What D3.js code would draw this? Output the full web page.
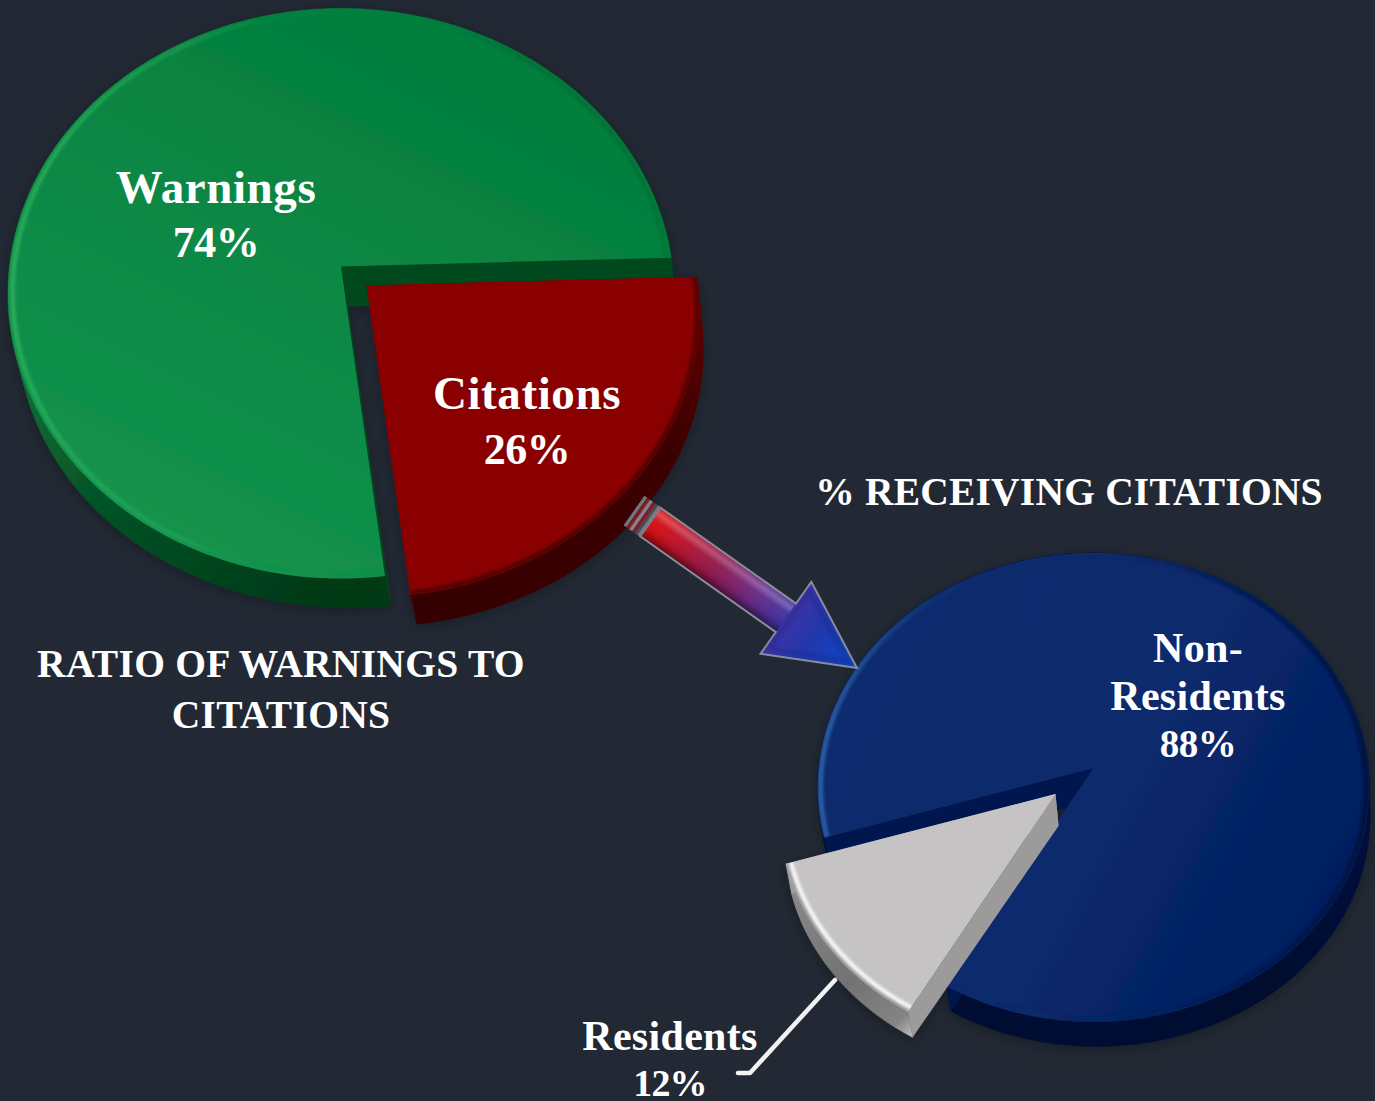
<!DOCTYPE html>
<html><head><meta charset="utf-8">
<script src="https://cdn.jsdelivr.net/npm/d3@7"></script>
<style>html,body{margin:0;padding:0;background:#222934;overflow:hidden}svg{display:block}
text{font-family:"Liberation Serif",serif;font-weight:700;fill:#fff;text-anchor:middle}</style>
</head><body><div id="chart"></div>
<script>
// ---- data ----
const ratioNames = ["Warnings", "Citations"];
const ratioValues = [74, 26];
const receivingNames = ["Non-Residents", "Residents"];
const receivingValues = [88, 12];
const ratioTitle = ["RATIO OF WARNINGS TO", "CITATIONS"];
const receivingTitle = ["% RECEIVING CITATIONS"];

const W = 1375, H = 1101;
const rad = d => d * Math.PI / 180;
const svg = d3.select("#chart").append("svg").attr("width", W).attr("height", H);
svg.append("rect").attr("width", W).attr("height", H).attr("fill", "#222934");
const defs = svg.append("defs");

const blur = defs.append("filter").attr("id", "soft").attr("x", "-20%").attr("y", "-20%").attr("width", "140%").attr("height", "140%");
blur.append("feGaussianBlur").attr("stdDeviation", 1.6);
const shadow = defs.append("filter").attr("id", "shadow").attr("filterUnits", "userSpaceOnUse")
  .attr("x", 0).attr("y", 0).attr("width", W).attr("height", H);
shadow.append("feDropShadow").attr("dx", 0).attr("dy", 3).attr("stdDeviation", 7).attr("flood-color", "#000").attr("flood-opacity", 0.28);

function gradient(id, p, stops) {
  const g = defs.append("linearGradient").attr("id", id).attr("gradientUnits", "userSpaceOnUse")
    .attr("x1", p[0]).attr("y1", p[1]).attr("x2", p[2]).attr("y2", p[3]);
  stops.forEach(s => g.append("stop").attr("offset", s[0]).attr("stop-color", s[1]).attr("stop-opacity", s[2] === undefined ? 1 : s[2]));
  return `url(#${id})`;
}

// geometry of the tilted discs
const ratioDisc = { cx: 341, cy: 266.5, Rx: 331.5, Ry: 282.5, k: 0.0947, dx: 7, sx: 0.99, dy: 40, sy: 0.965 };
const recvDisc = { cx: 1093.5, cy: 768, Rx: 275, Ry: 233, k: 0.083, dx: 3, sx: 0.99, dy: 32, sy: 0.97 };

function project(D, a, r, low) {
  const x = r * Math.sin(a), z = r * Math.cos(a), s = 1 / (1 + D.k * z);
  return low ? [D.cx + D.dx + D.Rx * D.sx * x * s, D.cy + D.dy - D.Ry * D.sy * z * s]
             : [D.cx + D.Rx * x * s, D.cy - D.Ry * z * s];
}
const line = d3.line();

function drawSlice(parent, D, a0, a1, off, st, id) {
  const g = parent.append("g").attr("transform", `translate(${off[0]},${off[1]})`);
  const n = Math.ceil(Math.abs(a1 - a0) / rad(1));
  const angles = d3.range(n + 1).map(i => a0 + (a1 - a0) * i / n);
  const top = angles.map(a => project(D, a, 1, false));
  const low = angles.map(a => project(D, a, 1, true));
  const apex = project(D, 0, 0, false), apexLow = project(D, 0, 0, true);
  // outer side
  const sideQuads = d3.range(n).map(i => line([top[i], top[i + 1], low[i + 1], low[i]]) + "Z").join("");
  g.append("path").attr("d", sideQuads).attr("fill", st.side).attr("stroke", st.side).attr("stroke-width", 0.5);
  // cut walls
  [[top[0], low[0]], [top[n], low[n]]].forEach(e => {
    g.append("path").attr("d", line([apex, e[0], e[1], apexLow]) + "Z").attr("fill", st.wall);
  });
  // top face
  const face = line([apex, ...top]) + "Z";
  g.append("path").attr("d", face).attr("fill", st.face);
  // rim bevel
  const clip = defs.append("clipPath").attr("id", "clip" + id);
  clip.append("path").attr("d", face);
  const rim = angles.map(a => project(D, a, 1 - st.rimIn / D.Rx, false));
  if (st.edge) {
    const rimE = angles.map(a => project(D, a, 1 - 0.5 / D.Rx, false));
    g.append("g").attr("clip-path", `url(#clip${id})`).append("path").attr("d", line(rimE)).attr("fill", "none")
      .attr("stroke", st.edge).attr("stroke-width", 5).attr("filter", "url(#soft)");
  }
  g.append("g").attr("clip-path", `url(#clip${id})`).append("path").attr("d", line(rim)).attr("fill", "none")
    .attr("stroke", st.rim).attr("stroke-width", st.rimW).attr("filter", "url(#soft)");
  return g;
}

// ---- ratio pie ----
const ratioPie = d3.pie().sort(null).startAngle(rad(173.1)).endAngle(rad(173.1 + 360))(ratioValues);
const ratioAngle = d3.scaleLinear()
  .domain([ratioPie[0].startAngle, ratioPie[0].endAngle, ratioPie[1].endAngle])
  .range([rad(173.1), rad(448.2), rad(533.1)]);
const ratioStyles = [
  { face: gradient("gF", [170, 520, 400, 60], [[0, "#13924c"], [1, "#047f3e"]]),
    side: gradient("gS", [20, 350, 300, 600], [[0, "#0b7136"], [0.45, "#055226"], [1, "#033a18"]]),
    wall: "#03491d",
    rim: gradient("gR", [0, 0, 520, 0], [[0, "#2cb05e", 0.95], [0.35, "#23a857", 0.5], [0.6, "#0a8a44", 0.05], [1, "#02602c", 0.45]]),
    rimIn: 4.5, rimW: 4.5 },
  { face: "#8a0404", side: gradient("rS", [400, 620, 700, 300], [[0, "#340000"], [0.7, "#3c0000"], [1, "#5e0000"]]),
    wall: "#4c0000", rim: "#520000", rimIn: 2, rimW: 5 }
];
const ratioOff = [[0, 0], [25.5, 19]];
const ratioG = svg.append("g").attr("filter", "url(#shadow)");
ratioPie.forEach((d, i) => drawSlice(ratioG, ratioDisc, ratioAngle(d.startAngle), ratioAngle(d.endAngle), ratioOff[i], ratioStyles[i], "r" + i));

// ---- receiving pie ----
const recvPie = d3.pie().sort(null).startAngle(rad(253)).endAngle(rad(253 + 360))(receivingValues);
const recvStyles = [
  { face: gradient("bF", [820, 600, 1370, 900], [[0, "#0c2d6f"], [0.55, "#0a2a6c"], [1, "#001d5e"]]),
    side: gradient("bS", [880, 1000, 1370, 800], [[0, "#000f34"], [0.7, "#000c2e"], [1, "#00113f"]]),
    wall: "#001850",
    rim: gradient("bR", [820, 0, 1370, 0], [[0, "#3163ad", 0.9], [0.1, "#2a589f", 0.6], [0.28, "#0c2d6f", 0], [0.6, "#001a55", 0.35], [1, "#000f3a", 0.95]]),
    rimIn: 3, rimW: 5 },
  { face: "#c5c3c4", side: gradient("wS", [790, 880, 910, 1040], [[0, "#8c8b8b"], [0.6, "#737272"], [0.9, "#858484"], [1, "#bdbbbb"]]),
    wall: "#9c9a9a", rim: "#fbfbfb", rimIn: 5, rimW: 4, edge: "#979696" }
];
const recvOff = [[0, 0], [-38, 26]];
const recvG = svg.append("g").attr("filter", "url(#shadow)");
recvPie.forEach((d, i) => drawSlice(recvG, recvDisc, d.startAngle, d.endAngle, recvOff[i], recvStyles[i], "b" + i));

// ---- arrow ----
const arrowFrom = [634, 510.5], arrowTo = [857, 668];
const arrowLen = Math.hypot(arrowTo[0] - arrowFrom[0], arrowTo[1] - arrowFrom[1]);
const arrowRot = Math.atan2(arrowTo[1] - arrowFrom[1], arrowTo[0] - arrowFrom[0]) * 180 / Math.PI;
const shaftHalf = 17.5, headHalf = 44, headLen = 87;
const ag = svg.append("g").attr("transform", `translate(${arrowFrom}) rotate(${arrowRot})`);
const neck = arrowLen - headLen;
const bodyPts = [[20, -shaftHalf], [neck, -shaftHalf], [neck, -headHalf], [arrowLen, 0], [neck, headHalf], [neck, shaftHalf], [20, shaftHalf]];
const along = gradient("aX", [0, 0, arrowLen, 0], [[0, "#e01010"], [0.12, "#d01018"], [0.35, "#96184a"], [0.55, "#652a88"], [0.7, "#3b33a6"], [0.8, "#2238ac"], [1, "#0649c8"]]);
ag.append("path").attr("d", line(bodyPts) + "Z").attr("fill", along).attr("stroke", "#8b8f9c").attr("stroke-width", 2).attr("stroke-linejoin", "miter");
// bevel on the shaft
const across = gradient("aY", [0, -shaftHalf, 0, shaftHalf], [[0, "#fff", 0.06], [0.18, "#fff", 0.26], [0.38, "#fff", 0.03], [0.75, "#000", 0.08], [1, "#000", 0.5]]);
ag.append("rect").attr("x", 21).attr("y", -shaftHalf + 1).attr("width", neck - 21).attr("height", 2 * shaftHalf - 2).attr("fill", across);
// bevel on the head
ag.append("path").attr("d", line([[neck + 4, -headHalf + 9], [arrowLen - 11, 0], [neck + 4, headHalf - 9]]) + "Z")
  .attr("fill", "none").attr("stroke", "#17257f").attr("stroke-width", 5).attr("opacity", 0.35).attr("filter", "url(#soft)");
// stripes at the tail
[[0, "#70757f"], [4, "#8c1c22"], [7, "#80848e"], [11, "#8c1c22"], [14, "#4a4e58"], [17, "#777b85"]].forEach(s => {
  ag.append("rect").attr("x", s[0]).attr("y", -shaftHalf - 0.5).attr("width", 3.5).attr("height", 2 * shaftHalf + 1).attr("fill", s[1]);
});

// ---- leader ----
const leader = [[835, 980], [750, 1073], [738, 1073]];
svg.append("path").attr("d", line(leader)).attr("fill", "none").attr("stroke", "#f2f2f2").attr("stroke-width", 4.5)
  .attr("stroke-linecap", "round").attr("stroke-linejoin", "round");

// ---- text ----
function label(lines, x, ys, sizes, ls) {
  lines.forEach((t, i) => svg.append("text").attr("x", x).attr("y", ys[i])
    .attr("font-size", sizes[i]).attr("letter-spacing", ls[i]).text(t));
}
label([ratioNames[0], ratioValues[0] + "%"], 216, [203, 257], [47, 44], [0.6, -0.5]);
label([ratioNames[1], ratioValues[1] + "%"], 527, [409, 464], [47, 44], [0.6, -0.5]);
label(["Non-", receivingNames[0].split("-")[1], receivingValues[0] + "%"], 1198, [662, 710, 757], [42, 42, 39], [0.3, 0.3, -0.5]);
label([receivingNames[1], receivingValues[1] + "%"], 670, [1050, 1096], [42, 38], [0.3, -0.8]);
label(ratioTitle, 281, [677, 728], [39.5, 39.5], [0.3, 0.3]);
label(receivingTitle, 1069, [505], [39.5], [0.2]);
</script></body></html>
